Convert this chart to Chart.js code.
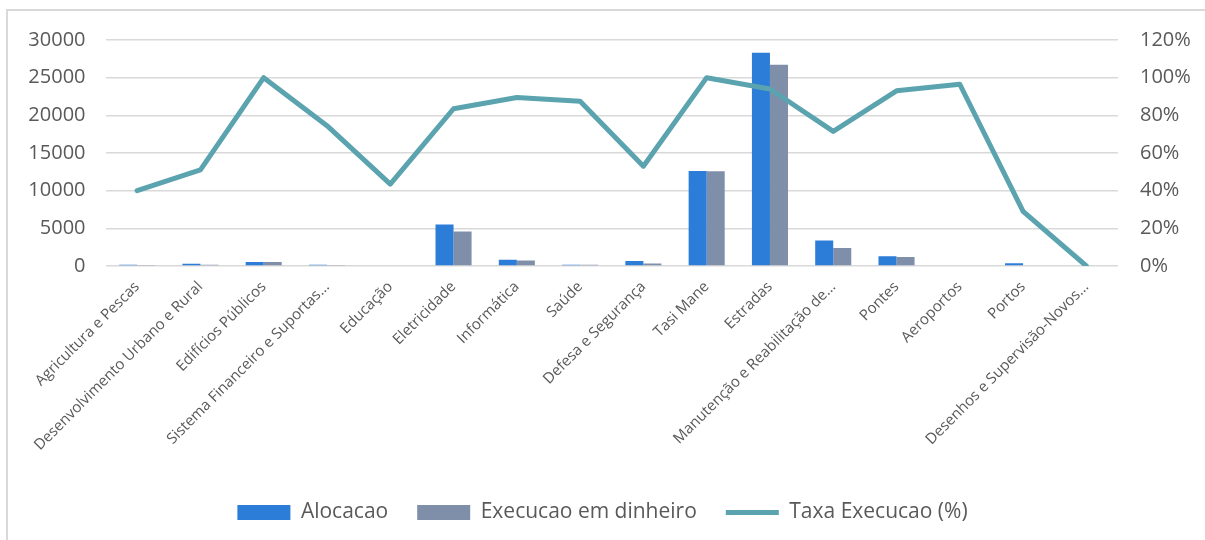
<!DOCTYPE html>
<html>
<head>
<meta charset="utf-8">
<script src="https://cdn.jsdelivr.net/npm/chart.js@4.4.1/dist/chart.umd.min.js"></script>
<style>
  html, body { margin: 0; padding: 0; background: #ffffff; }
  #wrap { position: relative; width: 1205px; height: 540px; overflow: hidden; }
  #frame { position: absolute; left: 6px; top: 9px; width: 1300px; height: 600px; border: 2px solid #D9D9D9; box-sizing: border-box; }
  #c { position: absolute; left: 0; top: 0; }
</style>
</head>
<body>
<div id="wrap">
  <div id="frame"></div>
  <canvas id="c" width="1205" height="540"></canvas>
</div>
<script>
const categories = [
  "Agricultura e Pescas",
  "Desenvolvimento Urbano e Rural",
  "Edifícios Públicos",
  "Sistema Financeiro e Suportas...",
  "Educação",
  "Eletricidade",
  "Informática",
  "Saúde",
  "Defesa e Segurança",
  "Tasi Mane",
  "Estradas",
  "Manutenção e Reabilitação de...",
  "Pontes",
  "Aeroportos",
  "Portos",
  "Desenhos e Supervisão-Novos..."
];
const alocacao = [180, 300, 530, 170, 0, 5500, 820, 180, 680, 12600, 28300, 3380, 1280, 0, 380, 110];
const execucao = [70, 150, 520, 125, 0, 4580, 730, 155, 340, 12580, 26700, 2400, 1200, 0, 110, 0];
const taxa = [40, 51, 100, 74.5, 43.5, 83.5, 89.5, 87.5, 53, 100, 94, 71.5, 93, 96.5, 29, 0];
const leftTicks = [0, 5000, 10000, 15000, 20000, 25000, 30000];
const rightTicks = [0, 20, 40, 60, 80, 100, 120];

const textColor = "#595959";
const gridColor = "#D9D9D9";

new Chart(document.getElementById("c"), {
  data: {
    labels: categories,
    datasets: [
      {
        type: "bar", label: "Alocacao", data: alocacao, yAxisID: "y",
        backgroundColor: "#2B7DD7", borderWidth: 0, order: 2,
        barPercentage: 1.0, categoryPercentage: 0.57
      },
      {
        type: "bar", label: "Execucao em dinheiro", data: execucao, yAxisID: "y",
        backgroundColor: "#7F8FA9", borderWidth: 0, order: 2,
        barPercentage: 1.0, categoryPercentage: 0.57
      },
      {
        type: "line", label: "Taxa Execucao (%)", data: taxa, yAxisID: "y1",
        borderColor: "#5BA4AF", backgroundColor: "#5BA4AF", borderWidth: 5,
        pointRadius: 0, tension: 0, order: 0, borderCapStyle: "round", borderJoinStyle: "round"
      }
    ]
  },
  options: {
    responsive: false,
    animation: false,
    layout: { padding: { left: 0, right: 0, top: 40, bottom: 7 } },
    plugins: {
      tooltip: { enabled: false },
      legend: {
        position: "bottom",
        labels: {
          color: textColor,
          font: { family: "'Open Sans'", size: 21 },
          usePointStyle: true,
          pointStyleWidth: 53,
          boxWidth: 53,
          boxHeight: 15,
          padding: 29,
          generateLabels: (chart) => chart.data.datasets.map((ds, i) => ({
            text: ds.label,
            fillStyle: ds.type === "line" ? ds.borderColor : ds.backgroundColor,
            strokeStyle: ds.type === "line" ? ds.borderColor : ds.backgroundColor,
            lineWidth: ds.type === "line" ? 5 : 0,
            pointStyle: ds.type === "line" ? "line" : "rect",
            fontColor: textColor,
            datasetIndex: i,
            hidden: false
          }))
        }
      }
    },
    scales: {
      x: {
        offset: true,
        grid: { display: false },
        border: { display: false },
        ticks: {
          color: textColor,
          font: { family: "'Open Sans'", size: 15 },
          maxRotation: 45, minRotation: 45,
          autoSkip: false, padding: 4
        },
        afterFit: (s) => { s.height = 207; }
      },
      y: {
        position: "left",
        min: 0, max: 30000,
        border: { display: false },
        grid: { color: gridColor, lineWidth: 1.5, drawTicks: false },
        afterBuildTicks: (s) => { s.ticks = leftTicks.map(v => ({ value: v })); },
        ticks: {
          color: textColor,
          font: { family: "'Open Sans'", size: 20 },
          padding: 20,
          callback: (v) => String(v)
        },
        afterFit: (s) => { s.width = 105.5; }
      },
      y1: {
        position: "right",
        min: 0, max: 120,
        border: { display: false },
        grid: { display: false, drawTicks: false },
        afterBuildTicks: (s) => { s.ticks = rightTicks.map(v => ({ value: v })); },
        ticks: {
          color: textColor,
          font: { family: "'Open Sans'", size: 20 },
          padding: 22,
          callback: (v) => v + "%"
        },
        afterFit: (s) => { s.width = 87; }
      }
    }
  }
});
</script>
</body>
</html>
